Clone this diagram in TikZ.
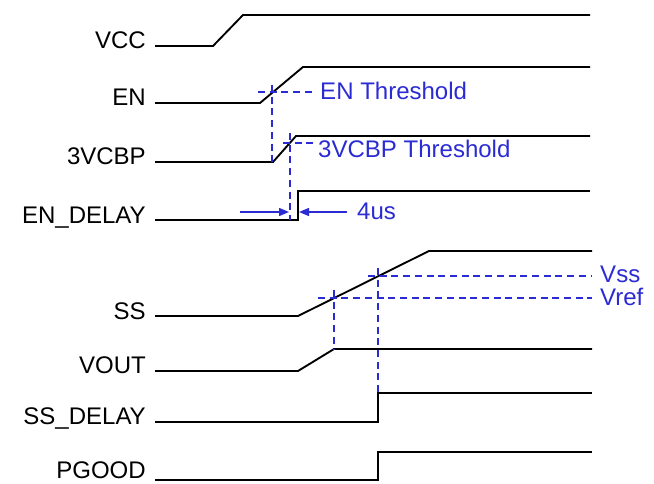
\documentclass[tikz,border=0pt]{standalone}
\usepackage{fontspec}
\setmainfont{Liberation Sans}
\usetikzlibrary{arrows.meta}
\definecolor{ThrBlue}{HTML}{2B2BD4}

\begin{document}
\begin{tikzpicture}[
  x=0.03cm,y=-0.03cm,
  every node/.style={font=\fontsize{20.5}{24}\selectfont,inner sep=0pt},
  sig/.style={draw=black,line width=1.6pt,line join=miter},
  thr/.style={draw=ThrBlue,line width=1.2pt,dash pattern=on 6pt off 4pt},
  lbl/.style={anchor=base east},
  tlbl/.style={anchor=base west,text=ThrBlue},
  arr/.style={-{Triangle[length=3mm,width=2.4mm]},draw=ThrBlue,line width=1.2pt}
]
\useasboundingbox (0,0) rectangle (654,483);
% signal names
\node[lbl] (vcc)   at (146,49)  {VCC};
\node[lbl] (en)    at (146,106) {EN};
\node[lbl] (vcbp)  at (146,165) {3VCBP};
\node[lbl] (endly) at (146,223) {EN\_DELAY};
\node[lbl] (ss)    at (146,319) {SS};
\node[lbl] (vout)  at (146,373) {VOUT};
\node[lbl] (ssdly) at (146,424) {SS\_DELAY};
\node[lbl] (pgood) at (146,478) {PGOOD};
% waveforms
\draw[sig] (155,46)  -- (213,46)  -- (243,15)  -- (590,15);
\draw[sig] (155,103) -- (260,103) -- (303,67)  -- (590,67);
\draw[sig] (155,162) -- (273,162) -- (296,136) -- (590,136);
\draw[sig] (155,220) -- (298,220) -- (298,191) -- (590,191);
\draw[sig] (155,316) -- (298,316) -- (429,251) -- (592,251);
\draw[sig] (155,371) -- (298,371) -- (334,349) -- (592,349);
\draw[sig] (155,422) -- (378,422) -- (378,393) -- (592,393);
\draw[sig] (155,480) -- (378,480) -- (378,452) -- (592,452);
% thresholds
\draw[thr] (258,92) -- (312,92);
\draw[thr] (272,85) -- (272,162);
\node[tlbl] (enth) at (320,100) {EN Threshold};
\draw[thr] (283,143) -- (313,143);
\draw[thr] (290,133) -- (290,220);
\node[tlbl] (vcbpth) at (318,158) {3VCBP Threshold};
\draw[thr] (368,276) -- (592,276);
\draw[thr] (318,298) -- (592,298);
\draw[thr] (334,290) -- (334,349);
\draw[thr] (378,268) -- (378,393);
\node[tlbl] (vss)  at (600,282) {Vss};
\node[tlbl] (vref) at (600,305) {Vref};
% delay
\coordinate (dlA) at (240,212);
\coordinate (dlB) at (289,212);
\coordinate (dlC) at (299,212);
\coordinate (dlD) at (347,212);
\draw[arr] (dlA) -- (dlB);
\draw[arr] (dlD) -- (dlC);
\node[tlbl] (dly) at (357,219) {4us};
\end{tikzpicture}
\end{document}
